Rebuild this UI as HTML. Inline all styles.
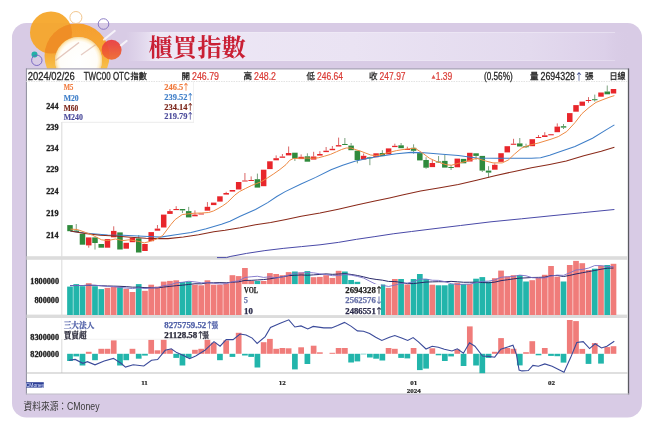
<!DOCTYPE html>
<html><head><meta charset="utf-8">
<style>
html,body{margin:0;padding:0;background:#fff;width:656px;height:428px;overflow:hidden}
svg{display:block}
.s{font-family:"Liberation Sans", "Noto Sans CJK TC", sans-serif}
.f{font-family:"Liberation Serif", "Noto Serif CJK TC", serif;font-weight:bold}
</style></head><body>
<svg width="656" height="428" viewBox="0 0 656 428">
<defs>
<linearGradient id="strip" x1="0" x2="1" y1="0" y2="0">
<stop offset="0" stop-color="#e6def0" stop-opacity="0"/>
<stop offset="0.06" stop-color="#ede7f5"/>
<stop offset="0.45" stop-color="#eae3f3"/>
<stop offset="0.8" stop-color="#e3daee"/>
<stop offset="0.95" stop-color="#dcd0e9"/>
<stop offset="1" stop-color="#d8cbe5" stop-opacity="0"/>
</linearGradient>
<linearGradient id="ringg" x1="0" x2="0" y1="0" y2="1">
<stop offset="0" stop-color="#f59e2e"/>
<stop offset="0.45" stop-color="#f6a834"/>
<stop offset="0.65" stop-color="#f7bc46"/>
<stop offset="0.85" stop-color="#f8cc5c"/>
<stop offset="1" stop-color="#fad874"/>
</linearGradient>
<linearGradient id="redg" x1="0" x2="0" y1="0" y2="1">
<stop offset="0" stop-color="#ea3a3e"/>
<stop offset="1" stop-color="#f06a2c"/>
</linearGradient>
<radialGradient id="inner" cx="0.5" cy="0.5" r="0.5">
<stop offset="0" stop-color="#ffffff"/>
<stop offset="0.8" stop-color="#fffdf8"/>
<stop offset="0.9" stop-color="#fff2d4"/>
<stop offset="1" stop-color="#f9d890"/>
</radialGradient>
<filter id="soft" x="-10%" y="-10%" width="120%" height="120%"><feGaussianBlur stdDeviation="0.35"/></filter>
<clipPath id="innerclip"><circle cx="78.5" cy="60.5" r="23.5"/></clipPath>
<clipPath id="ringclip"><path clip-rule="evenodd" d="M44.5,56 a32.5,32.5 0 1,0 65,0 a32.5,32.5 0 1,0 -65,0 Z M55,60.5 a23.5,23.5 0 1,0 47,0 a23.5,23.5 0 1,0 -47,0 Z"/></clipPath>
<clipPath id="abovebox"><rect x="0" y="0" width="656" height="69"/></clipPath>
</defs>
<rect x="12" y="23" width="630" height="394.5" rx="14.5" fill="#d8cbe5"/>
<rect x="126" y="32" width="504" height="29" fill="url(#strip)"/>
<line x1="150" y1="32.4" x2="615" y2="32.4" stroke="#f2eef8" stroke-width="0.8" opacity="0.7"/>
<line x1="150" y1="60.6" x2="615" y2="60.6" stroke="#f2eef8" stroke-width="0.8" opacity="0.5"/>
<g clip-path="url(#abovebox)" filter="url(#soft)">
<circle cx="51" cy="32.5" r="21" fill="#f6a62a" opacity="0.95"/>
<path fill-rule="evenodd" fill="url(#ringg)" d="M44.5,56 a32.5,32.5 0 1,0 65,0 a32.5,32.5 0 1,0 -65,0 Z M55,60.5 a23.5,23.5 0 1,0 47,0 a23.5,23.5 0 1,0 -47,0 Z"/>
<circle cx="51" cy="32.5" r="21" fill="#ef8e26" clip-path="url(#ringclip)"/>
<circle cx="78.5" cy="60.5" r="23.5" fill="url(#inner)"/>
<g clip-path="url(#innerclip)">
<line x1="55.5" y1="60.5" x2="79" y2="42.5" stroke="#c89080" stroke-width="1.4" opacity="0.5"/>
<line x1="81" y1="55" x2="99" y2="42.3" stroke="#c89080" stroke-width="1.3" opacity="0.45"/>
</g>
<circle cx="111.6" cy="49.7" r="10" fill="url(#redg)" opacity="0.93"/>
<line x1="104" y1="39.5" x2="114.6" y2="31" stroke="#fff" stroke-width="2.2" stroke-linecap="round" opacity="0.75"/>
<line x1="121" y1="45.3" x2="126.5" y2="41" stroke="#fff" stroke-width="2.2" stroke-linecap="round" opacity="0.75"/>
<circle cx="75.9" cy="17.5" r="6" fill="none" stroke="#f0c080" stroke-width="0.9"/>
<circle cx="103.5" cy="24" r="5.3" fill="none" stroke="#8070c0" stroke-width="0.9"/>
<circle cx="34.5" cy="54.5" r="3" fill="#20b0a8"/>
<circle cx="36.8" cy="60.3" r="5.2" fill="none" stroke="#7060c0" stroke-width="0.9"/>
</g>
<text x="148.5" y="56" font-family="'Liberation Serif','Noto Serif CJK TC',serif" font-weight="bold" font-size="24" fill="#c91f34" textLength="97.5" lengthAdjust="spacingAndGlyphs">櫃買指數</text>

<!-- chart box -->
<rect x="26" y="69" width="602.5" height="325" fill="#fff"/>
<line x1="26" y1="68.8" x2="629" y2="68.8" stroke="#a8a4b6" stroke-width="1.2"/>
<line x1="26.4" y1="68.5" x2="26.4" y2="394.5" stroke="#8a8a9a" stroke-width="1"/>
<line x1="628.5" y1="68.5" x2="628.5" y2="394.5" stroke="#5a5a62" stroke-width="1.3"/>
<line x1="26" y1="394" x2="629" y2="394" stroke="#c0bec8" stroke-width="1.2"/>
<line x1="26" y1="81.5" x2="628" y2="81.5" stroke="#dcdcdc" stroke-width="0.8" stroke-dasharray="1.5,1"/>
<g class="s" font-size="10" fill="#262626" stroke="#262626" stroke-width="0.28">
<text x="27.8" y="79.6" textLength="47" lengthAdjust="spacingAndGlyphs">2024/02/26</text>
<text x="83.7" y="79.6" textLength="46" lengthAdjust="spacingAndGlyphs">TWC00 OTC</text>
<text x="130.5" y="79.4" font-size="8.3" textLength="16.3" lengthAdjust="spacingAndGlyphs">指數</text>
<text x="181.5" y="79.4" font-size="8.5">開</text>
<text x="243.5" y="79.4" font-size="8.5">高</text>
<text x="306.5" y="79.4" font-size="8.5">低</text>
<text x="369" y="79.4" font-size="8.5">收</text>
<text x="484" y="79.6" textLength="28.7" lengthAdjust="spacingAndGlyphs">(0.56%)</text>
<text x="530" y="79.4" font-size="8.5">量</text>
<text x="540.5" y="79.6" textLength="34.5" lengthAdjust="spacingAndGlyphs">2694328</text>
<text x="585" y="79.4" font-size="8.5">張</text>
<text x="609.5" y="79.4" font-size="8.5" textLength="16" lengthAdjust="spacingAndGlyphs">日線</text>
</g>
<g class="s" font-size="10" fill="#da3c36" stroke="#da3c36" stroke-width="0.2">
<text x="192" y="79.6" textLength="27" lengthAdjust="spacingAndGlyphs">246.79</text>
<text x="254" y="79.6" textLength="22" lengthAdjust="spacingAndGlyphs">248.2</text>
<text x="317" y="79.6" textLength="26" lengthAdjust="spacingAndGlyphs">246.64</text>
<text x="379.6" y="79.6" textLength="26" lengthAdjust="spacingAndGlyphs">247.97</text>
<text x="431.6" y="77.9" font-family="'DejaVu Sans',sans-serif" font-size="5.2" stroke-width="0" opacity="0.85">▲</text>
<text x="435.8" y="79.6" textLength="16.5" lengthAdjust="spacingAndGlyphs">1.39</text>
</g>
<text x="574.3" y="79.8" font-family="'Noto Sans CJK TC',sans-serif" font-size="9.5" fill="#2a3a80">↑</text>

<!-- grid/axis lines -->
<line x1="61.8" y1="122" x2="61.8" y2="373" stroke="#d0d0d0" stroke-width="0.8"/>
<line x1="62" y1="122.3" x2="194" y2="122.3" stroke="#e6e6e6" stroke-width="0.8"/>
<line x1="193.5" y1="82" x2="193.5" y2="122.3" stroke="#eeeeee" stroke-width="0.8"/>
<rect x="26.5" y="256.2" width="601" height="3.6" fill="#dcdcdc"/>
<rect x="26.5" y="314.6" width="601" height="3.4" fill="#dcdcdc"/>
<line x1="26.5" y1="373" x2="627.5" y2="373" stroke="#b8b8b8" stroke-width="0.9"/>

<!-- y labels -->
<g class="f" font-size="8.2" fill="#222" stroke="#222" stroke-width="0.3" text-anchor="end">
<text x="58.5" y="109">244</text>
<text x="58.5" y="130.4">239</text>
<text x="58.5" y="151.2">234</text>
<text x="58.5" y="172.3">229</text>
<text x="58.5" y="193.5">224</text>
<text x="58.5" y="216.2">219</text>
<text x="58.5" y="238">214</text>
<text x="59" y="283.9">1800000</text>
<text x="59" y="303.3">800000</text>
<text x="59" y="340.1">8300000</text>
<text x="59" y="357">8200000</text>
</g>

<!-- price candles -->
<rect x="67.25" y="225.1" width="5.5" height="6.1" fill="#2f8a3c"/>
<line x1="76.25" y1="224" x2="76.25" y2="230.5" stroke="#5a8a60" stroke-width="0.8"/>
<rect x="73.5" y="230.5" width="5.5" height="1.5" fill="#2f8a3c"/>
<rect x="79.74" y="233.7" width="5.5" height="11" fill="#2f8a3c"/>
<line x1="88.74" y1="245.4" x2="88.74" y2="247.7" stroke="#d04040" stroke-width="0.8"/>
<rect x="85.99" y="237.4" width="5.5" height="8" fill="#e8262b"/>
<line x1="94.99" y1="243" x2="94.99" y2="249.6" stroke="#5a8a60" stroke-width="0.8"/>
<rect x="92.24" y="237.4" width="5.5" height="5.6" fill="#2f8a3c"/>
<rect x="98.48" y="244" width="5.5" height="3.7" fill="#2f8a3c"/>
<rect x="104.73" y="239.1" width="5.5" height="8.6" fill="#e8262b"/>
<line x1="113.73" y1="226.3" x2="113.73" y2="230.9" stroke="#d04040" stroke-width="0.8"/>
<rect x="110.98" y="230.9" width="5.5" height="6.4" fill="#e8262b"/>
<rect x="117.23" y="232.4" width="5.5" height="17.1" fill="#2f8a3c"/>
<rect x="123.47" y="242.8" width="5.5" height="5.9" fill="#e8262b"/>
<rect x="129.72" y="237.9" width="5.5" height="4.3" fill="#e8262b"/>
<line x1="138.72" y1="235" x2="138.72" y2="238.4" stroke="#5a8a60" stroke-width="0.8"/>
<rect x="135.97" y="238.4" width="5.5" height="14.1" fill="#2f8a3c"/>
<rect x="142.21" y="244" width="5.5" height="7" fill="#e8262b"/>
<rect x="148.46" y="232.1" width="5.5" height="9.1" fill="#e8262b"/>
<line x1="157.46" y1="225" x2="157.46" y2="228.6" stroke="#d04040" stroke-width="0.8"/>
<rect x="154.71" y="228.6" width="5.5" height="2.1" fill="#e8262b"/>
<rect x="160.95" y="214.6" width="5.5" height="12.9" fill="#e8262b"/>
<line x1="169.95" y1="209" x2="169.95" y2="211.1" stroke="#d04040" stroke-width="0.8"/>
<rect x="167.2" y="211.1" width="5.5" height="2.8" fill="#e8262b"/>
<line x1="176.2" y1="206.2" x2="176.2" y2="209" stroke="#d04040" stroke-width="0.8"/>
<rect x="173.45" y="209" width="5.5" height="1.1" fill="#e8262b"/>
<line x1="182.45" y1="210.4" x2="182.45" y2="213" stroke="#5a8a60" stroke-width="0.8"/>
<rect x="179.7" y="209" width="5.5" height="1.4" fill="#2f8a3c"/>
<line x1="188.69" y1="206.9" x2="188.69" y2="211.1" stroke="#5a8a60" stroke-width="0.8"/>
<rect x="185.94" y="211.1" width="5.5" height="6.3" fill="#2f8a3c"/>
<line x1="194.94" y1="210.4" x2="194.94" y2="214.6" stroke="#d04040" stroke-width="0.8"/>
<rect x="192.19" y="214.6" width="5.5" height="1.7" fill="#e8262b"/>
<rect x="198.44" y="213.5" width="5.5" height="1" fill="#e8262b"/>
<line x1="207.43" y1="202.1" x2="207.43" y2="206.8" stroke="#d04040" stroke-width="0.8"/>
<rect x="204.68" y="206.8" width="5.5" height="3.9" fill="#e8262b"/>
<rect x="210.93" y="202.6" width="5.5" height="2.5" fill="#e8262b"/>
<rect x="217.18" y="196.3" width="5.5" height="5.3" fill="#e8262b"/>
<line x1="226.18" y1="191.8" x2="226.18" y2="193" stroke="#d04040" stroke-width="0.8"/>
<rect x="223.43" y="193" width="5.5" height="1.6" fill="#e8262b"/>
<rect x="229.67" y="190" width="5.5" height="1.6" fill="#e8262b"/>
<rect x="235.92" y="182" width="5.5" height="7.5" fill="#e8262b"/>
<line x1="244.92" y1="173" x2="244.92" y2="180.5" stroke="#d04040" stroke-width="0.8"/>
<rect x="242.17" y="180.5" width="5.5" height="1" fill="#e8262b"/>
<line x1="251.16" y1="176.4" x2="251.16" y2="180" stroke="#d04040" stroke-width="0.8"/>
<rect x="248.41" y="180" width="5.5" height="1" fill="#e8262b"/>
<line x1="257.41" y1="173.6" x2="257.41" y2="179.2" stroke="#5a8a60" stroke-width="0.8"/>
<rect x="254.66" y="179.2" width="5.5" height="8.4" fill="#2f8a3c"/>
<rect x="260.91" y="169.7" width="5.5" height="16.5" fill="#e8262b"/>
<rect x="267.15" y="161.3" width="5.5" height="7.8" fill="#e8262b"/>
<line x1="276.15" y1="155.4" x2="276.15" y2="158.2" stroke="#d04040" stroke-width="0.8"/>
<rect x="273.4" y="158.2" width="5.5" height="2.1" fill="#e8262b"/>
<line x1="282.4" y1="154" x2="282.4" y2="156.5" stroke="#d04040" stroke-width="0.8"/>
<rect x="279.65" y="156.5" width="5.5" height="1.3" fill="#e8262b"/>
<line x1="288.64" y1="146.5" x2="288.64" y2="153" stroke="#d04040" stroke-width="0.8"/>
<rect x="285.89" y="153" width="5.5" height="2.4" fill="#e8262b"/>
<line x1="294.89" y1="158.6" x2="294.89" y2="161" stroke="#5a8a60" stroke-width="0.8"/>
<rect x="292.14" y="152.7" width="5.5" height="5.9" fill="#2f8a3c"/>
<line x1="301.14" y1="154.4" x2="301.14" y2="156.8" stroke="#d04040" stroke-width="0.8"/>
<rect x="298.39" y="156.8" width="5.5" height="2.3" fill="#e8262b"/>
<line x1="307.39" y1="153.3" x2="307.39" y2="156.3" stroke="#5a8a60" stroke-width="0.8"/>
<rect x="304.64" y="156.3" width="5.5" height="5.4" fill="#2f8a3c"/>
<line x1="313.63" y1="151.8" x2="313.63" y2="156.5" stroke="#d04040" stroke-width="0.8"/>
<rect x="310.88" y="156.5" width="5.5" height="3.1" fill="#e8262b"/>
<line x1="319.88" y1="151.2" x2="319.88" y2="154" stroke="#d04040" stroke-width="0.8"/>
<rect x="317.13" y="154" width="5.5" height="1.6" fill="#e8262b"/>
<line x1="326.13" y1="147" x2="326.13" y2="150.7" stroke="#d04040" stroke-width="0.8"/>
<rect x="323.38" y="150.7" width="5.5" height="1.4" fill="#e8262b"/>
<line x1="332.37" y1="146" x2="332.37" y2="148.8" stroke="#d04040" stroke-width="0.8"/>
<rect x="329.62" y="148.8" width="5.5" height="1.4" fill="#e8262b"/>
<line x1="338.62" y1="137.6" x2="338.62" y2="145.1" stroke="#d04040" stroke-width="0.8"/>
<rect x="335.87" y="145.1" width="5.5" height="1.4" fill="#e8262b"/>
<line x1="344.87" y1="138" x2="344.87" y2="144" stroke="#5a8a60" stroke-width="0.8"/>
<rect x="342.12" y="144" width="5.5" height="1" fill="#2f8a3c"/>
<line x1="351.12" y1="143" x2="351.12" y2="145.6" stroke="#5a8a60" stroke-width="0.8"/>
<rect x="348.37" y="145.6" width="5.5" height="4.6" fill="#2f8a3c"/>
<line x1="357.36" y1="160" x2="357.36" y2="163.3" stroke="#5a8a60" stroke-width="0.8"/>
<rect x="354.61" y="150.7" width="5.5" height="9.3" fill="#2f8a3c"/>
<line x1="363.61" y1="153.5" x2="363.61" y2="155.8" stroke="#d04040" stroke-width="0.8"/>
<rect x="360.86" y="155.8" width="5.5" height="3.8" fill="#e8262b"/>
<line x1="369.86" y1="156.8" x2="369.86" y2="157.3" stroke="#5a8a60" stroke-width="0.8"/>
<line x1="369.86" y1="158" x2="369.86" y2="165.2" stroke="#5a8a60" stroke-width="0.8"/>
<rect x="367.11" y="157.3" width="5.5" height="1" fill="#2f8a3c"/>
<rect x="373.35" y="153.3" width="5.5" height="3.9" fill="#e8262b"/>
<line x1="382.35" y1="150.2" x2="382.35" y2="153" stroke="#5a8a60" stroke-width="0.8"/>
<rect x="379.6" y="153" width="5.5" height="3.1" fill="#2f8a3c"/>
<rect x="385.85" y="148.4" width="5.5" height="6" fill="#e8262b"/>
<line x1="394.84" y1="143.7" x2="394.84" y2="145.8" stroke="#d04040" stroke-width="0.8"/>
<rect x="392.09" y="145.8" width="5.5" height="1.3" fill="#e8262b"/>
<line x1="401.09" y1="143" x2="401.09" y2="145.3" stroke="#5a8a60" stroke-width="0.8"/>
<rect x="398.34" y="145.3" width="5.5" height="2.9" fill="#2f8a3c"/>
<line x1="407.34" y1="146.7" x2="407.34" y2="149" stroke="#d04040" stroke-width="0.8"/>
<rect x="404.59" y="149" width="5.5" height="1" fill="#e8262b"/>
<line x1="413.58" y1="144.3" x2="413.58" y2="147.8" stroke="#5a8a60" stroke-width="0.8"/>
<line x1="413.58" y1="150.8" x2="413.58" y2="153.7" stroke="#5a8a60" stroke-width="0.8"/>
<rect x="410.83" y="147.8" width="5.5" height="3" fill="#2f8a3c"/>
<rect x="417.08" y="153.1" width="5.5" height="7.3" fill="#2f8a3c"/>
<line x1="426.08" y1="157.2" x2="426.08" y2="160" stroke="#5a8a60" stroke-width="0.8"/>
<line x1="426.08" y1="167.7" x2="426.08" y2="168.8" stroke="#5a8a60" stroke-width="0.8"/>
<rect x="423.33" y="160" width="5.5" height="7.7" fill="#2f8a3c"/>
<line x1="432.33" y1="160" x2="432.33" y2="163" stroke="#d04040" stroke-width="0.8"/>
<rect x="429.58" y="163" width="5.5" height="4.1" fill="#e8262b"/>
<line x1="438.57" y1="156" x2="438.57" y2="161.5" stroke="#5a8a60" stroke-width="0.8"/>
<line x1="438.57" y1="162.2" x2="438.57" y2="163" stroke="#5a8a60" stroke-width="0.8"/>
<rect x="435.82" y="161.5" width="5.5" height="1" fill="#2f8a3c"/>
<line x1="444.82" y1="155" x2="444.82" y2="160.9" stroke="#5a8a60" stroke-width="0.8"/>
<rect x="442.07" y="160.9" width="5.5" height="6.7" fill="#2f8a3c"/>
<line x1="451.07" y1="165" x2="451.07" y2="167" stroke="#5a8a60" stroke-width="0.8"/>
<line x1="451.07" y1="167.8" x2="451.07" y2="170" stroke="#5a8a60" stroke-width="0.8"/>
<rect x="448.32" y="167" width="5.5" height="1" fill="#2f8a3c"/>
<rect x="454.56" y="158.6" width="5.5" height="8.7" fill="#e8262b"/>
<rect x="460.81" y="158.9" width="5.5" height="4.4" fill="#2f8a3c"/>
<rect x="467.06" y="152.8" width="5.5" height="8.7" fill="#e8262b"/>
<line x1="476.06" y1="155.9" x2="476.06" y2="159.8" stroke="#5a8a60" stroke-width="0.8"/>
<rect x="473.31" y="153.3" width="5.5" height="2.6" fill="#2f8a3c"/>
<line x1="482.3" y1="170.6" x2="482.3" y2="172" stroke="#5a8a60" stroke-width="0.8"/>
<rect x="479.55" y="155.9" width="5.5" height="14.7" fill="#2f8a3c"/>
<line x1="488.55" y1="166.2" x2="488.55" y2="170.6" stroke="#5a8a60" stroke-width="0.8"/>
<line x1="488.55" y1="172.6" x2="488.55" y2="177.8" stroke="#5a8a60" stroke-width="0.8"/>
<rect x="485.8" y="170.6" width="5.5" height="2" fill="#2f8a3c"/>
<line x1="494.8" y1="163.3" x2="494.8" y2="164.8" stroke="#d04040" stroke-width="0.8"/>
<rect x="492.05" y="164.8" width="5.5" height="4.9" fill="#e8262b"/>
<rect x="498.29" y="153.2" width="5.5" height="8.7" fill="#e8262b"/>
<rect x="504.54" y="146.2" width="5.5" height="6.2" fill="#e8262b"/>
<line x1="513.54" y1="138.8" x2="513.54" y2="143.7" stroke="#d04040" stroke-width="0.8"/>
<rect x="510.79" y="143.7" width="5.5" height="1.1" fill="#e8262b"/>
<line x1="519.78" y1="138" x2="519.78" y2="143.4" stroke="#5a8a60" stroke-width="0.8"/>
<rect x="517.03" y="143.4" width="5.5" height="3.1" fill="#2f8a3c"/>
<line x1="526.03" y1="143.7" x2="526.03" y2="146.2" stroke="#5a8a60" stroke-width="0.8"/>
<line x1="526.03" y1="146.8" x2="526.03" y2="148" stroke="#5a8a60" stroke-width="0.8"/>
<rect x="523.28" y="146.2" width="5.5" height="1" fill="#2f8a3c"/>
<rect x="529.53" y="139.2" width="5.5" height="7" fill="#e8262b"/>
<line x1="538.52" y1="135" x2="538.52" y2="137" stroke="#d04040" stroke-width="0.8"/>
<rect x="535.77" y="137" width="5.5" height="1" fill="#e8262b"/>
<line x1="544.77" y1="132.2" x2="544.77" y2="135.3" stroke="#d04040" stroke-width="0.8"/>
<rect x="542.02" y="135.3" width="5.5" height="1.7" fill="#e8262b"/>
<rect x="548.27" y="134.2" width="5.5" height="1.1" fill="#e8262b"/>
<line x1="557.27" y1="123.4" x2="557.27" y2="126.6" stroke="#d04040" stroke-width="0.8"/>
<rect x="554.52" y="126.6" width="5.5" height="5.6" fill="#e8262b"/>
<line x1="563.51" y1="124" x2="563.51" y2="126.2" stroke="#5a8a60" stroke-width="0.8"/>
<line x1="563.51" y1="127.6" x2="563.51" y2="129" stroke="#5a8a60" stroke-width="0.8"/>
<rect x="560.76" y="126.2" width="5.5" height="1.4" fill="#2f8a3c"/>
<rect x="567.01" y="113.1" width="5.5" height="8.9" fill="#e8262b"/>
<rect x="573.26" y="105.1" width="5.5" height="6.6" fill="#e8262b"/>
<rect x="579.5" y="101.6" width="5.5" height="4.2" fill="#e8262b"/>
<line x1="588.5" y1="97.1" x2="588.5" y2="100" stroke="#d04040" stroke-width="0.8"/>
<line x1="588.5" y1="100.8" x2="588.5" y2="102.8" stroke="#d04040" stroke-width="0.8"/>
<rect x="585.75" y="100" width="5.5" height="1" fill="#e8262b"/>
<line x1="594.75" y1="94.6" x2="594.75" y2="99.2" stroke="#5a8a60" stroke-width="0.8"/>
<line x1="594.75" y1="100" x2="594.75" y2="101.6" stroke="#5a8a60" stroke-width="0.8"/>
<rect x="592" y="99.2" width="5.5" height="1" fill="#2f8a3c"/>
<rect x="598.25" y="92.5" width="5.5" height="4.2" fill="#e8262b"/>
<line x1="607.24" y1="85.5" x2="607.24" y2="91.5" stroke="#5a8a60" stroke-width="0.8"/>
<rect x="604.49" y="91.5" width="5.5" height="2.8" fill="#2f8a3c"/>
<rect x="610.74" y="89" width="5.5" height="4.5" fill="#e8262b"/>
<polyline points="217,257.6 226.5,257.6 230.1,256.5 246.6,253.4 264.9,250.6 283.2,248.4 301.5,246.6 320,244.8 338.3,242.4 356.6,239.3 374.9,236.6 393.2,233.8 411.5,231.5 430,229.2 460.5,225.5 491,221.8 521.5,218.8 552,215.7 582.4,212.7 614.4,209.5" fill="none" stroke="#4a4aa8" stroke-width="1"/>
<polyline points="70.4,231.2 90,233.6 107.7,234.9 123,235.3 138.2,236 153.5,236.8 160.5,237.1 175.7,234.8 191,232.5 206.2,228.7 221.5,224.3 230,221.3 240.2,216.3 255.5,209.5 267.7,202.6 276.8,196.5 285.2,191.6 300.5,184.3 315.7,177.4 331,169.8 342.7,165.2 354.9,161.3 367,158.5 378.3,156.5 396.6,153.7 411.2,152.4 424,152.8 442.3,154.3 458.3,155.5 476.6,157.9 494.9,158.3 513.2,158.3 531.5,158.3 540.6,157.8 549.7,155.3 557.5,152.5 575,146.4 592.5,138.3 606.5,129.6 614.4,124.9" fill="none" stroke="#3e7ec8" stroke-width="1.05"/>
<polyline points="70.4,231 84.9,233.4 100.1,235.2 115.4,236.1 130.6,237.3 145.8,238.2 160,238.6 168.1,238.6 183.4,237.1 198.6,234.8 213.8,231.8 225,230.3 240.2,227.8 255.5,224.7 270.7,222.4 286,219.4 301.2,216.3 320,213 338.3,209.2 356.6,205.1 374.9,201 389.5,197.9 402.3,195 420.6,191 440,187.8 458.3,184.4 476.6,180.2 494.9,175.7 513.2,171.7 531.5,167.7 549.7,164.4 566.3,161.1 583.8,155.7 601.3,151.3 614.4,147.2" fill="none" stroke="#8a2a1a" stroke-width="1.05"/>
<polyline points="70.4,229.1 77.2,229.5 84.9,232.2 92.5,235.2 101.6,239.8 107.7,240.6 115.4,239 123,240.6 129,239.8 138.2,241.3 144.3,242.9 150.4,241.3 156.5,239 162.6,235.6 166.8,230 171,224.4 175.2,219.5 182.2,214.6 187.8,213.9 194.8,213.2 201.8,213 208.7,212.5 213.4,211 218,208.6 222.7,205.8 227.4,202.5 229.9,200 234.8,195.1 239.6,191.5 245.7,188.4 251.8,185.4 256.7,183.5 261.6,181.5 267.7,177.8 273.8,173.8 279.9,169.5 286,164.6 289.6,160.4 293.3,158.5 298.2,158.3 307.3,158 312.2,158.3 318.3,157.8 324.4,156.2 330.5,154.4 336.6,151.7 341.5,149.5 346.3,148 351.2,148 356.1,149.8 361,151.3 365.9,153.2 370.7,155 375.6,155.6 380,155 387.4,152.8 396.6,150.6 405.7,149.1 414.9,148.2 422.2,152.8 429.5,158.3 436.8,161.6 446,164.7 451.5,165.2 458.3,163.4 467.4,161 476.6,158.3 485.7,161 493,162.9 502.2,162.9 508.3,160 514.4,154.2 521.7,148 529,145.3 538.8,142.9 551,139.2 558.3,136.6 566.8,131.5 575,122.6 582,113.6 589,107.5 596,102.4 603,99.6 610,97 614.4,95.6" fill="none" stroke="#ee8a44" stroke-width="1"/>

<!-- MA legend -->
<g class="f" font-size="7.8">
<text x="63.7" y="89.9" fill="#f0783a" stroke="#f0783a" stroke-width="0.12" textLength="9.6" lengthAdjust="spacingAndGlyphs">M5</text>
<text x="63.7" y="100.8" fill="#3e7ec8" stroke="#3e7ec8" stroke-width="0.12" textLength="15" lengthAdjust="spacingAndGlyphs">M20</text>
<text x="63.7" y="110.6" fill="#7a2418" stroke="#7a2418" stroke-width="0.12" textLength="14.5" lengthAdjust="spacingAndGlyphs">M60</text>
<text x="63.7" y="120.4" fill="#4a4a9a" stroke="#4a4a9a" stroke-width="0.12" textLength="19.2" lengthAdjust="spacingAndGlyphs">M240</text>
<text x="164.3" y="89.5" fill="#f0783a" stroke="#f0783a" stroke-width="0.12" textLength="19" lengthAdjust="spacingAndGlyphs">246.5</text>
<text x="164.3" y="99.8" fill="#3e7ec8" stroke="#3e7ec8" stroke-width="0.12" textLength="23.2" lengthAdjust="spacingAndGlyphs">239.52</text>
<text x="164.3" y="109.8" fill="#7a2418" stroke="#7a2418" stroke-width="0.12" textLength="23.2" lengthAdjust="spacingAndGlyphs">234.14</text>
<text x="164.3" y="119.1" fill="#4a4a9a" stroke="#4a4a9a" stroke-width="0.12" textLength="23.2" lengthAdjust="spacingAndGlyphs">219.79</text>
<g font-family="'Noto Sans CJK TC',sans-serif" font-size="8" font-weight="normal">
<text x="181.9" y="89.6" fill="#f0783a" stroke="#f0783a" stroke-width="0.12">↑</text>
<text x="186.3" y="99.9" fill="#3e7ec8" stroke="#3e7ec8" stroke-width="0.12">↑</text>
<text x="186.3" y="109.9" fill="#7a2418" stroke="#7a2418" stroke-width="0.12">↑</text>
<text x="186.3" y="119.2" fill="#4a4a9a" stroke="#4a4a9a" stroke-width="0.12">↑</text>
</g></g>

<!-- volume -->
<rect x="67.15" y="286.6" width="5.7" height="28.4" fill="#22b5ab"/>
<rect x="73.4" y="284.1" width="5.7" height="30.9" fill="#22b5ab"/>
<rect x="79.64" y="286.2" width="5.7" height="28.8" fill="#22b5ab"/>
<rect x="85.89" y="283.2" width="5.7" height="31.8" fill="#f07c7a"/>
<rect x="92.14" y="286.2" width="5.7" height="28.8" fill="#22b5ab"/>
<rect x="98.39" y="289.1" width="5.7" height="25.9" fill="#22b5ab"/>
<rect x="104.63" y="287.9" width="5.7" height="27.1" fill="#f07c7a"/>
<rect x="110.88" y="287" width="5.7" height="28" fill="#f07c7a"/>
<rect x="117.13" y="287.2" width="5.7" height="27.8" fill="#22b5ab"/>
<rect x="123.37" y="288.8" width="5.7" height="26.2" fill="#f07c7a"/>
<rect x="129.62" y="292" width="5.7" height="23" fill="#f07c7a"/>
<rect x="135.87" y="284.1" width="5.7" height="30.9" fill="#22b5ab"/>
<rect x="142.11" y="290.8" width="5.7" height="24.2" fill="#f07c7a"/>
<rect x="148.36" y="284.7" width="5.7" height="30.3" fill="#f07c7a"/>
<rect x="154.61" y="286.6" width="5.7" height="28.4" fill="#f07c7a"/>
<rect x="160.85" y="281.6" width="5.7" height="33.4" fill="#f07c7a"/>
<rect x="167.1" y="280.9" width="5.7" height="34.1" fill="#f07c7a"/>
<rect x="173.35" y="280.3" width="5.7" height="34.7" fill="#f07c7a"/>
<rect x="179.6" y="282" width="5.7" height="33" fill="#22b5ab"/>
<rect x="185.84" y="281.6" width="5.7" height="33.4" fill="#22b5ab"/>
<rect x="192.09" y="284.7" width="5.7" height="30.3" fill="#f07c7a"/>
<rect x="198.34" y="285.3" width="5.7" height="29.7" fill="#f07c7a"/>
<rect x="204.58" y="280.3" width="5.7" height="34.7" fill="#f07c7a"/>
<rect x="210.83" y="284.7" width="5.7" height="30.3" fill="#f07c7a"/>
<rect x="217.08" y="284.7" width="5.7" height="30.3" fill="#f07c7a"/>
<rect x="223.33" y="283.5" width="5.7" height="31.5" fill="#f07c7a"/>
<rect x="229.57" y="275.2" width="5.7" height="39.8" fill="#f07c7a"/>
<rect x="235.82" y="276.1" width="5.7" height="38.9" fill="#f07c7a"/>
<rect x="242.07" y="268" width="5.7" height="47" fill="#f07c7a"/>
<rect x="248.31" y="281" width="5.7" height="34" fill="#f07c7a"/>
<rect x="254.56" y="281" width="5.7" height="34" fill="#22b5ab"/>
<rect x="260.81" y="281" width="5.7" height="34" fill="#f07c7a"/>
<rect x="267.05" y="273.1" width="5.7" height="41.9" fill="#f07c7a"/>
<rect x="273.3" y="274" width="5.7" height="41" fill="#f07c7a"/>
<rect x="279.55" y="275.2" width="5.7" height="39.8" fill="#f07c7a"/>
<rect x="285.79" y="272.1" width="5.7" height="42.9" fill="#f07c7a"/>
<rect x="292.04" y="271.5" width="5.7" height="43.5" fill="#22b5ab"/>
<rect x="298.29" y="272.4" width="5.7" height="42.6" fill="#f07c7a"/>
<rect x="304.54" y="271.1" width="5.7" height="43.9" fill="#22b5ab"/>
<rect x="310.78" y="277.2" width="5.7" height="37.8" fill="#f07c7a"/>
<rect x="317.03" y="276.9" width="5.7" height="38.1" fill="#f07c7a"/>
<rect x="323.28" y="275.2" width="5.7" height="39.8" fill="#f07c7a"/>
<rect x="329.52" y="277.9" width="5.7" height="37.1" fill="#f07c7a"/>
<rect x="335.77" y="270.8" width="5.7" height="44.2" fill="#f07c7a"/>
<rect x="342.02" y="271.5" width="5.7" height="43.5" fill="#22b5ab"/>
<rect x="348.26" y="280" width="5.7" height="35" fill="#22b5ab"/>
<rect x="354.51" y="281.8" width="5.7" height="33.2" fill="#22b5ab"/>
<rect x="360.76" y="286" width="5.7" height="29" fill="#f07c7a"/>
<rect x="367.01" y="287" width="5.7" height="28" fill="#22b5ab"/>
<rect x="373.25" y="287" width="5.7" height="28" fill="#f07c7a"/>
<rect x="379.5" y="284.5" width="5.7" height="30.5" fill="#22b5ab"/>
<rect x="385.75" y="287.9" width="5.7" height="27.1" fill="#f07c7a"/>
<rect x="391.99" y="279" width="5.7" height="36" fill="#f07c7a"/>
<rect x="398.24" y="279" width="5.7" height="36" fill="#22b5ab"/>
<rect x="404.49" y="284.5" width="5.7" height="30.5" fill="#f07c7a"/>
<rect x="410.73" y="279" width="5.7" height="36" fill="#22b5ab"/>
<rect x="416.98" y="274" width="5.7" height="41" fill="#22b5ab"/>
<rect x="423.23" y="279" width="5.7" height="36" fill="#22b5ab"/>
<rect x="429.48" y="284.7" width="5.7" height="30.3" fill="#f07c7a"/>
<rect x="435.72" y="285.3" width="5.7" height="29.7" fill="#22b5ab"/>
<rect x="441.97" y="285.3" width="5.7" height="29.7" fill="#22b5ab"/>
<rect x="448.22" y="284.1" width="5.7" height="30.9" fill="#22b5ab"/>
<rect x="454.46" y="282.8" width="5.7" height="32.2" fill="#f07c7a"/>
<rect x="460.71" y="284.1" width="5.7" height="30.9" fill="#22b5ab"/>
<rect x="466.96" y="284.1" width="5.7" height="30.9" fill="#f07c7a"/>
<rect x="473.2" y="278.7" width="5.7" height="36.3" fill="#22b5ab"/>
<rect x="479.45" y="277.1" width="5.7" height="37.9" fill="#22b5ab"/>
<rect x="485.7" y="281.6" width="5.7" height="33.4" fill="#22b5ab"/>
<rect x="491.95" y="278.2" width="5.7" height="36.8" fill="#f07c7a"/>
<rect x="498.19" y="270.6" width="5.7" height="44.4" fill="#f07c7a"/>
<rect x="504.44" y="276.5" width="5.7" height="38.5" fill="#f07c7a"/>
<rect x="510.69" y="275.2" width="5.7" height="39.8" fill="#f07c7a"/>
<rect x="516.93" y="275.1" width="5.7" height="39.9" fill="#22b5ab"/>
<rect x="523.18" y="281.5" width="5.7" height="33.5" fill="#22b5ab"/>
<rect x="529.43" y="280.2" width="5.7" height="34.8" fill="#f07c7a"/>
<rect x="535.67" y="277.9" width="5.7" height="37.1" fill="#f07c7a"/>
<rect x="541.92" y="274.8" width="5.7" height="40.2" fill="#f07c7a"/>
<rect x="548.17" y="266" width="5.7" height="49" fill="#f07c7a"/>
<rect x="554.42" y="276.6" width="5.7" height="38.4" fill="#f07c7a"/>
<rect x="560.66" y="281.5" width="5.7" height="33.5" fill="#22b5ab"/>
<rect x="566.91" y="265" width="5.7" height="50" fill="#f07c7a"/>
<rect x="573.16" y="260.9" width="5.7" height="54.1" fill="#f07c7a"/>
<rect x="579.4" y="263.2" width="5.7" height="51.8" fill="#f07c7a"/>
<rect x="585.65" y="270" width="5.7" height="45" fill="#f07c7a"/>
<rect x="591.9" y="268.7" width="5.7" height="46.3" fill="#22b5ab"/>
<rect x="598.14" y="265.6" width="5.7" height="49.4" fill="#f07c7a"/>
<rect x="604.39" y="265" width="5.7" height="50" fill="#22b5ab"/>
<rect x="610.64" y="263.8" width="5.7" height="51.2" fill="#f07c7a"/>
<polyline points="70,285.61 76.25,285.47 82.49,285.54 88.74,285.31 94.99,285.38 101.23,285.74 107.48,285.98 113.73,286.13 119.98,286.3 126.22,286.63 132.47,287.17 138.72,287.17 144.96,287.63 151.21,287.78 157.46,287.82 163.7,287.07 169.95,286.37 176.2,285.7 182.45,285.18 188.69,284.46 194.94,283.73 201.19,283.85 207.43,282.8 213.68,282.8 219.93,282.61 226.18,282.8 232.42,282.23 238.67,281.81 244.92,280.41 251.16,280.35 257.41,279.98 263.66,279.55 269.9,278.83 276.15,277.76 282.4,276.81 288.64,275.67 294.89,275.3 301.14,274.93 307.39,275.24 313.63,274.86 319.88,274.45 326.13,273.87 332.37,274.35 338.62,274.03 344.87,273.66 351.12,274.45 357.36,275.48 363.61,276.84 369.86,278.43 376.1,279.41 382.35,280.17 388.6,281.44 394.84,281.55 401.09,282.37 407.34,283.67 413.58,283.57 419.83,282.79 426.08,282.09 432.33,281.86 438.57,281.69 444.82,281.77 451.07,281.39 457.31,281.77 463.56,282.28 469.81,282.24 476.06,282.21 482.3,282.52 488.55,282.78 494.8,282.13 501.04,280.66 507.29,279.78 513.54,278.89 519.78,278.12 526.03,277.86 532.28,277.47 538.52,277.39 544.77,277.16 551.02,275.6 557.27,275.44 563.51,276.53 569.76,275.38 576.01,273.95 582.25,272.76 588.5,271.61 594.75,270.46 601,269.23 607.24,268.25 613.49,268.03" fill="none" stroke="#2a2a6a" stroke-width="1"/>
<polyline points="70,285.72 76.25,285.44 82.49,285.58 88.74,285.12 94.99,285.26 101.23,285.76 107.48,286.52 113.73,286.68 119.98,287.48 126.22,288 132.47,288.58 138.72,287.82 144.96,288.58 151.21,288.08 157.46,287.64 163.7,285.56 169.95,284.92 176.2,282.82 182.45,282.28 188.69,281.28 194.94,281.9 201.19,282.78 207.43,282.78 213.68,283.32 219.93,283.94 226.18,283.7 232.42,281.68 238.67,280.84 244.92,277.5 251.16,276.76 257.41,276.26 263.66,277.42 269.9,276.82 276.15,278.02 282.4,276.86 288.64,275.08 294.89,273.18 301.14,273.04 307.39,272.46 313.63,272.86 319.88,273.82 326.13,274.56 332.37,275.66 338.62,275.6 344.87,274.46 351.12,275.08 357.36,276.4 363.61,278.02 369.86,281.26 376.1,284.36 382.35,285.26 388.6,286.48 394.84,285.08 401.09,283.48 407.34,282.98 413.58,281.88 419.83,279.1 426.08,279.1 432.33,280.24 438.57,280.4 444.82,281.66 451.07,283.68 457.31,284.44 463.56,284.32 469.81,284.08 476.06,282.76 482.3,281.36 488.55,281.12 494.8,279.94 501.04,277.24 507.29,276.8 513.54,276.42 519.78,275.12 526.03,275.78 532.28,277.7 538.52,277.98 544.77,277.9 551.02,276.08 557.27,275.1 563.51,275.36 569.76,272.78 576.01,270 582.25,269.44 588.5,268.12 594.75,265.56 601,265.68 607.24,266.5 613.49,266.62" fill="none" stroke="#7a70c8" stroke-width="0.9"/>
<rect x="241.9" y="284.1" width="139" height="31" fill="#fff"/>
<g class="f" font-size="7.9">
<text x="244.1" y="292.7" fill="#222" stroke="#222" stroke-width="0.25" textLength="14" lengthAdjust="spacingAndGlyphs">VOL</text>
<text x="244.1" y="303.2" fill="#6670a8" stroke="#6670a8" stroke-width="0.25" textLength="3.9" lengthAdjust="spacingAndGlyphs">5</text>
<text x="244.1" y="313.7" fill="#2a2a4a" stroke="#2a2a4a" stroke-width="0.25" textLength="8.8" lengthAdjust="spacingAndGlyphs">10</text>
<text x="345.3" y="292.7" fill="#222" stroke="#222" stroke-width="0.25" textLength="30.5" lengthAdjust="spacingAndGlyphs">2694328</text>
<text x="345.3" y="303.2" fill="#6670a8" stroke="#6670a8" stroke-width="0.25" textLength="30.5" lengthAdjust="spacingAndGlyphs">2562576</text>
<text x="345.3" y="313.7" fill="#2a2a4a" stroke="#2a2a4a" stroke-width="0.25" textLength="30.5" lengthAdjust="spacingAndGlyphs">2486551</text>
<g font-family="'Noto Sans CJK TC',sans-serif" font-size="8" font-weight="normal">
<text x="375" y="292.8" fill="#222" stroke="#222" stroke-width="0.25">↑</text>
<text x="375" y="303.3" fill="#6670a8" stroke="#6670a8" stroke-width="0.25">↓</text>
<text x="375" y="313.8" fill="#2a2a4a" stroke="#2a2a4a" stroke-width="0.25">↑</text>
</g></g>

<!-- institutional -->
<rect x="67.15" y="353.8" width="5.7" height="7.2" fill="#22b5ab"/>
<rect x="73.4" y="353.8" width="5.7" height="2.6" fill="#22b5ab"/>
<rect x="79.64" y="353.8" width="5.7" height="11.7" fill="#22b5ab"/>
<rect x="85.89" y="351.8" width="5.7" height="2" fill="#f07c7a"/>
<rect x="92.14" y="353.8" width="5.7" height="6.4" fill="#22b5ab"/>
<rect x="98.39" y="348.8" width="5.7" height="5" fill="#f07c7a"/>
<rect x="104.63" y="348.8" width="5.7" height="5" fill="#f07c7a"/>
<rect x="110.88" y="340.4" width="5.7" height="13.4" fill="#f07c7a"/>
<rect x="117.13" y="353.8" width="5.7" height="11.7" fill="#22b5ab"/>
<rect x="123.37" y="353.8" width="5.7" height="6.4" fill="#22b5ab"/>
<rect x="129.62" y="348.8" width="5.7" height="5" fill="#f07c7a"/>
<rect x="135.87" y="353.8" width="5.7" height="4.9" fill="#22b5ab"/>
<rect x="142.11" y="353.8" width="5.7" height="1.8" fill="#22b5ab"/>
<rect x="148.36" y="339.8" width="5.7" height="14" fill="#f07c7a"/>
<rect x="154.61" y="350.3" width="5.7" height="3.5" fill="#f07c7a"/>
<rect x="160.85" y="339.6" width="5.7" height="14.2" fill="#f07c7a"/>
<rect x="167.1" y="349.2" width="5.7" height="4.6" fill="#f07c7a"/>
<rect x="173.35" y="353.8" width="5.7" height="4.1" fill="#22b5ab"/>
<rect x="179.6" y="353.8" width="5.7" height="11.7" fill="#22b5ab"/>
<rect x="185.84" y="353.8" width="5.7" height="4.1" fill="#22b5ab"/>
<rect x="192.09" y="349.8" width="5.7" height="4" fill="#f07c7a"/>
<rect x="198.34" y="348.8" width="5.7" height="5" fill="#f07c7a"/>
<rect x="204.58" y="339.6" width="5.7" height="14.2" fill="#f07c7a"/>
<rect x="210.83" y="342.7" width="5.7" height="11.1" fill="#f07c7a"/>
<rect x="217.08" y="353.8" width="5.7" height="6.4" fill="#22b5ab"/>
<rect x="223.33" y="340.4" width="5.7" height="13.4" fill="#f07c7a"/>
<rect x="229.57" y="353.8" width="5.7" height="3.1" fill="#22b5ab"/>
<rect x="235.82" y="332.8" width="5.7" height="21" fill="#f07c7a"/>
<rect x="242.07" y="353.8" width="5.7" height="1.7" fill="#22b5ab"/>
<rect x="248.31" y="353.8" width="5.7" height="3.1" fill="#22b5ab"/>
<rect x="254.56" y="353.8" width="5.7" height="13.7" fill="#22b5ab"/>
<rect x="260.81" y="342.2" width="5.7" height="11.6" fill="#f07c7a"/>
<rect x="267.05" y="338.9" width="5.7" height="14.9" fill="#f07c7a"/>
<rect x="273.3" y="348.8" width="5.7" height="5" fill="#f07c7a"/>
<rect x="279.55" y="348" width="5.7" height="5.8" fill="#f07c7a"/>
<rect x="285.79" y="348.3" width="5.7" height="5.5" fill="#f07c7a"/>
<rect x="292.04" y="353.8" width="5.7" height="15.6" fill="#22b5ab"/>
<rect x="298.29" y="347.3" width="5.7" height="6.5" fill="#f07c7a"/>
<rect x="304.54" y="353.8" width="5.7" height="10.2" fill="#22b5ab"/>
<rect x="310.78" y="345.7" width="5.7" height="8.1" fill="#f07c7a"/>
<rect x="317.03" y="352.3" width="5.7" height="1.5" fill="#f07c7a"/>
<rect x="329.52" y="352.8" width="5.7" height="1" fill="#f07c7a"/>
<rect x="335.77" y="348" width="5.7" height="5.8" fill="#f07c7a"/>
<rect x="342.02" y="348" width="5.7" height="5.8" fill="#f07c7a"/>
<rect x="348.26" y="353.8" width="5.7" height="8.7" fill="#22b5ab"/>
<rect x="354.51" y="353.8" width="5.7" height="7.6" fill="#22b5ab"/>
<rect x="360.76" y="353.8" width="5.7" height="0.5" fill="#22b5ab"/>
<rect x="367.01" y="353.8" width="5.7" height="3.7" fill="#22b5ab"/>
<rect x="373.25" y="353.8" width="5.7" height="4.9" fill="#22b5ab"/>
<rect x="379.5" y="353.8" width="5.7" height="6.7" fill="#22b5ab"/>
<rect x="385.75" y="348" width="5.7" height="5.8" fill="#f07c7a"/>
<rect x="391.99" y="348.8" width="5.7" height="5" fill="#f07c7a"/>
<rect x="398.24" y="353.8" width="5.7" height="4.1" fill="#22b5ab"/>
<rect x="404.49" y="353.8" width="5.7" height="4.6" fill="#22b5ab"/>
<rect x="410.73" y="348" width="5.7" height="5.8" fill="#f07c7a"/>
<rect x="416.98" y="353.8" width="5.7" height="16.3" fill="#22b5ab"/>
<rect x="423.23" y="353.8" width="5.7" height="14.8" fill="#22b5ab"/>
<rect x="429.48" y="348.3" width="5.7" height="5.5" fill="#f07c7a"/>
<rect x="435.72" y="353.8" width="5.7" height="1.5" fill="#22b5ab"/>
<rect x="441.97" y="353.8" width="5.7" height="7.2" fill="#22b5ab"/>
<rect x="448.22" y="353.8" width="5.7" height="2.6" fill="#22b5ab"/>
<rect x="454.46" y="349.5" width="5.7" height="4.3" fill="#f07c7a"/>
<rect x="460.71" y="353.8" width="5.7" height="12.2" fill="#22b5ab"/>
<rect x="466.96" y="326.4" width="5.7" height="27.4" fill="#f07c7a"/>
<rect x="473.2" y="353.8" width="5.7" height="11.7" fill="#22b5ab"/>
<rect x="479.45" y="353.8" width="5.7" height="19.4" fill="#22b5ab"/>
<rect x="485.7" y="353.8" width="5.7" height="4.1" fill="#22b5ab"/>
<rect x="491.95" y="351.8" width="5.7" height="2" fill="#f07c7a"/>
<rect x="498.19" y="338.1" width="5.7" height="15.7" fill="#f07c7a"/>
<rect x="504.44" y="348" width="5.7" height="5.8" fill="#f07c7a"/>
<rect x="510.69" y="348.8" width="5.7" height="5" fill="#f07c7a"/>
<rect x="516.93" y="353.8" width="5.7" height="11.6" fill="#22b5ab"/>
<rect x="523.18" y="352.2" width="5.7" height="1.6" fill="#f07c7a"/>
<rect x="529.43" y="341.2" width="5.7" height="12.6" fill="#f07c7a"/>
<rect x="535.67" y="353.8" width="5.7" height="1.5" fill="#22b5ab"/>
<rect x="541.92" y="348" width="5.7" height="5.8" fill="#f07c7a"/>
<rect x="548.17" y="353.8" width="5.7" height="2.1" fill="#22b5ab"/>
<rect x="554.42" y="353.8" width="5.7" height="2.4" fill="#22b5ab"/>
<rect x="560.66" y="353.8" width="5.7" height="8.8" fill="#22b5ab"/>
<rect x="566.91" y="320" width="5.7" height="33.8" fill="#f07c7a"/>
<rect x="573.16" y="321.1" width="5.7" height="32.7" fill="#f07c7a"/>
<rect x="579.4" y="348.9" width="5.7" height="4.9" fill="#f07c7a"/>
<rect x="585.65" y="353.8" width="5.7" height="10.1" fill="#22b5ab"/>
<rect x="591.9" y="343.1" width="5.7" height="10.7" fill="#f07c7a"/>
<rect x="598.14" y="353.8" width="5.7" height="9.8" fill="#22b5ab"/>
<rect x="604.39" y="347.1" width="5.7" height="6.7" fill="#f07c7a"/>
<rect x="610.64" y="346.2" width="5.7" height="7.6" fill="#f07c7a"/>
<polyline points="69.1,360.2 75.2,359.4 82.9,363.3 87.4,361.7 95,364.8 104.2,361 113.4,358.4 121,363.3 125.5,367.1 133.2,364.8 143.8,366 151.5,360.2 157.6,359.5 165.2,350.3 171.3,348.8 176.7,352.6 183.5,355.6 189.6,358.7 195.7,356 204.9,350.3 214,341.6 220.1,346.2 226.2,339.6 233.1,339.6 240,334 246.1,335 252.2,338.1 257.1,343.4 265.2,336.6 270.5,327.4 279.6,323.6 288.8,319.8 294.9,327 301,325.9 307.8,329 313.2,326.4 323.8,327.9 331.5,327.9 337.6,325.5 344.5,322.4 351.3,326.4 357.4,330.9 363.5,331.2 369.6,333.5 375.7,337.3 381.8,340.4 389.5,337.3 394.8,335.5 401.6,338.1 407.7,340.4 413.1,337.6 418.4,341.9 426,349 432.2,346.2 438.3,347.3 444.4,349.2 452,351 457.3,348.8 463.4,353.3 469.5,342.7 474.9,346.2 482.5,356 488.6,356.4 494.7,357.2 500.8,349.2 506.9,347.3 513,345.3 516.4,354.4 519.1,370 521.9,370.9 528.3,370.5 532.9,365.4 538.4,366.3 544.8,363.9 552.1,366.3 564,372.3 570.4,358.1 576.8,342.5 583.2,341.6 589.6,348.6 595.1,343.8 601.5,348 606.9,346.2 614.3,341.2" fill="none" stroke="#3a4a9a" stroke-width="1.1"/>
<rect x="61.2" y="318" width="161" height="21.2" fill="#fff"/>
<line x1="62.3" y1="339.3" x2="222" y2="339.3" stroke="#ececec" stroke-width="0.7"/>
<g class="f" font-size="7.6">
<text x="63.7" y="327.8" fill="#5060a8" stroke="#5060a8" stroke-width="0.25" textLength="30.6" lengthAdjust="spacingAndGlyphs">三大法人</text>
<text x="63.7" y="337.9" fill="#2a2a3a" stroke="#2a2a3a" stroke-width="0.25" textLength="23" lengthAdjust="spacingAndGlyphs">買賣超</text>
<text x="164.3" y="327.5" fill="#5060a8" stroke="#5060a8" stroke-width="0.25" textLength="42" lengthAdjust="spacingAndGlyphs">8275759.52</text>
<text x="164.3" y="337.8" fill="#2a2a3a" stroke="#2a2a3a" stroke-width="0.25" textLength="33" lengthAdjust="spacingAndGlyphs">21128.58</text>
<text x="211.4" y="327.5" fill="#5060a8" stroke="#5060a8" stroke-width="0.25" textLength="6.6" lengthAdjust="spacingAndGlyphs">張</text>
<text x="202.3" y="337.8" fill="#2a2a3a" stroke="#2a2a3a" stroke-width="0.25" textLength="6.6" lengthAdjust="spacingAndGlyphs">張</text>
<g font-family="'Noto Sans CJK TC',sans-serif" font-size="8" font-weight="normal">
<text x="205.6" y="327.6" fill="#5060a8" stroke="#5060a8" stroke-width="0.25">↑</text>
<text x="196.5" y="337.9" fill="#2a2a3a" stroke="#2a2a3a" stroke-width="0.25">↑</text>
</g></g>

<!-- x labels -->
<g class="f" font-size="7" fill="#222" stroke="#222" stroke-width="0.2" text-anchor="middle">
<text x="144.5" y="384.8">11</text>
<text x="282.3" y="384.8">12</text>
<text x="413.7" y="384.8">01</text>
<text x="413.7" y="392.8">2024</text>
<text x="551.5" y="384.8">02</text>
</g>
<rect x="26.2" y="382.2" width="17.6" height="5.4" fill="#2e4096"/>
<text x="35" y="386.8" class="s" font-size="5" fill="#dfe6ff" text-anchor="middle">CMoney</text>

<text x="23.5" y="410" class="s" font-size="10" fill="#3a3a3a" textLength="76" lengthAdjust="spacingAndGlyphs">資料來源：CMoney</text>
</svg>
</body></html>
